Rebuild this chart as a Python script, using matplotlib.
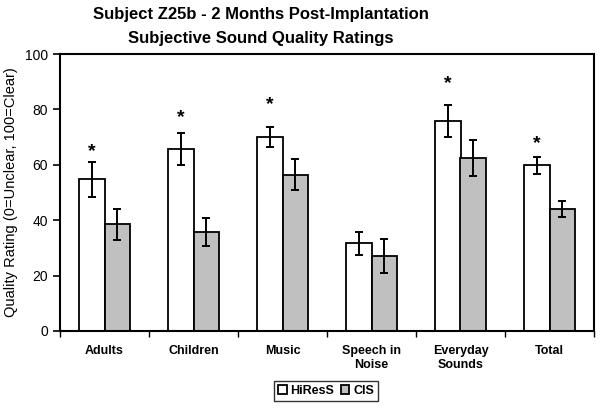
import numpy as np
import matplotlib.pyplot as plt

plt.rcParams['font.family'] = ['Liberation Sans', 'DejaVu Sans']

categories = ["Adults", "Children", "Music", "Speech in\nNoise", "Everyday\nSounds", "Total"]
hires = [54.7, 65.7, 70.0, 31.7, 75.8, 59.8]
hires_err = [6.3, 5.6, 3.6, 4.2, 5.8, 3.0]
cis = [38.5, 35.8, 56.4, 27.1, 62.3, 44.2]
cis_err = [5.6, 5.1, 5.6, 6.0, 6.5, 2.9]
# where the significance stars sit (None = no star)
star_level = [65.9, 78.2, 82.7, None, 90.3, 68.6]

fig = plt.figure(figsize=(6.04, 4.09), dpi=100)
ax = fig.add_axes([60/604, 1 - 331/409, 534/604, 277/409])

x = np.arange(len(categories))
w = 0.29
ax.bar(x - w/2, hires, w, color="white", edgecolor="black", linewidth=1.3, label="HiResS")
ax.bar(x + w/2, cis, w, color="#c0c0c0", edgecolor="black", linewidth=1.3, label="CIS")
ax.errorbar(x - w/2, hires, yerr=hires_err, fmt="none", ecolor="black", elinewidth=1.4, capsize=3, capthick=1.4)
ax.errorbar(x + w/2, cis, yerr=cis_err, fmt="none", ecolor="black", elinewidth=1.4, capsize=3, capthick=1.4)

for i in range(len(categories)):
    if star_level[i] is not None:
        ax.text(x[i] - w/2, star_level[i] - 1, "*", ha="center", va="center",
                fontsize=14, fontweight="bold")

ax.set_xlim(-0.5, len(categories) - 0.5)
ax.set_ylim(0, 100)
ax.set_yticks(range(0, 101, 20))
ax.tick_params(axis="y", labelsize=10, length=5, width=1.2, direction="out")
ax.set_xticks(np.arange(len(categories) + 1) - 0.5)
ax.set_xticklabels([])
ax.set_xticks(x, minor=True)
ax.set_xticklabels(categories, minor=True, fontweight="bold", fontsize=9)
ax.tick_params(axis="x", which="minor", length=0, pad=10)
ax.tick_params(axis="x", which="major", length=4, width=1.0, direction="out")
for s in ax.spines.values():
    s.set_linewidth(1.5)

ax.set_ylabel("Quality Rating (0=Unclear, 100=Clear)", fontsize=10.5, labelpad=5)

fig.text(261/604, 1 - 15/409, "Subject Z25b - 2 Months Post-Implantation", ha="center", va="center",
         fontsize=12, fontweight="bold")
fig.text(261/604, 1 - 38/409, "Subjective Sound Quality Ratings", ha="center", va="center",
         fontsize=12, fontweight="bold")

leg = fig.legend(loc="center", bbox_to_anchor=(326/604, 1 - 391/409), ncol=2, frameon=True,
                 fancybox=False, edgecolor="black", handlelength=0.7, handleheight=0.7,
                 handletextpad=0.3, columnspacing=0.5, borderpad=0.3,
                 prop={"weight": "bold", "size": 9})
leg.get_frame().set_linewidth(1.0)

fig.savefig("out.png", dpi=100)
